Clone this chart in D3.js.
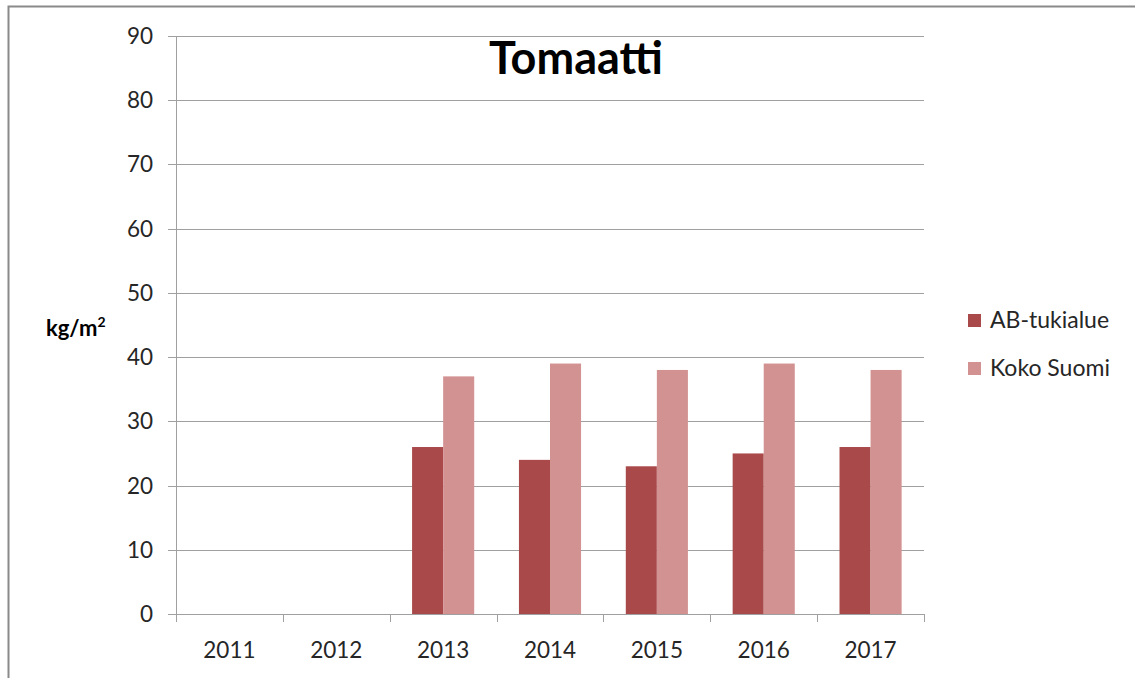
<!DOCTYPE html>
<html><head><meta charset="utf-8">
<script src="https://cdn.jsdelivr.net/npm/d3@7"></script>
<style>body{margin:0;background:#fff}svg{display:block}</style>
</head><body>
<svg id="c" width="1135" height="678"></svg>
<script>
const years = ["2011","2012","2013","2014","2015","2016","2017"];
const seriesNames = ["AB-tukialue","Koko Suomi"];
const abValues = [null,null,26,24,23,25,26];
const suomiValues = [null,null,37,39,38,39,38];
const yTicks = [0,10,20,30,40,50,60,70,80,90];
const colors = ["#A9494A","#D39292"];

const svg = d3.select("#c");
const font = "Lato, 'Open Sans', sans-serif";
// frame
svg.append("path").attr("d","M8.5,678 V6.5 H1135").attr("fill","none").attr("stroke","#8a8a8a").attr("stroke-width",2);

const x0 = d3.scaleBand().domain(years).range([176,924]);
const x1 = d3.scaleBand().domain(seriesNames).range([0,x0.bandwidth()]).paddingOuter(0.72).paddingInner(0);
const y = d3.scaleLinear().domain([0,90]).range([614,36]);

// gridlines
svg.append("g").selectAll("line").data(yTicks).join("line")
  .attr("x1",168).attr("x2",924).attr("y1",d=>Math.round(y(d))+0.5).attr("y2",d=>Math.round(y(d))+0.5)
  .attr("stroke","#a0a0a0").attr("stroke-width",1);
// y labels
svg.append("g").selectAll("text").data(yTicks).join("text")
  .attr("x",153).attr("y",d=>y(d)+8).attr("text-anchor","end")
  .attr("font-family",font).attr("font-size",22.5).attr("fill","#262626").text(d=>d);
// y axis line
svg.append("line").attr("x1",176.5).attr("x2",176.5).attr("y1",36).attr("y2",614).attr("stroke","#a0a0a0");
// x ticks
const xt = years.map(d=>x0(d)).concat([924]);
svg.append("g").selectAll("line").data(xt).join("line")
  .attr("x1",d=>Math.round(d)+0.5).attr("x2",d=>Math.round(d)+0.5).attr("y1",614).attr("y2",622)
  .attr("stroke","#a0a0a0");

const data = [abValues, suomiValues];
const g = svg.append("g");
seriesNames.forEach((s,i)=>{
  g.append("g").selectAll("rect").data(years.map((yr,j)=>({yr,v:data[i][j]})).filter(d=>d.v!=null)).join("rect")
    .attr("x",d=>x0(d.yr)+x1(s)).attr("width",x1.bandwidth())
    .attr("y",d=>y(d.v)).attr("height",d=>y(0)-y(d.v)).attr("fill",colors[i]);
});
// x labels
svg.append("g").selectAll("text").data(years).join("text")
  .attr("x",d=>x0(d)+x0.bandwidth()/2).attr("y",658).attr("text-anchor","middle")
  .attr("font-family",font).attr("font-size",22.5).attr("fill","#262626").text(d=>d);

// title
svg.append("text").attr("x",576).attr("y",74).attr("text-anchor","middle")
  .attr("font-family",font).attr("font-weight","bold").attr("font-size",45).attr("fill","#000").text("Tomaatti");
// y unit
const u = svg.append("text").attr("x",46).attr("y",336).attr("font-family",font).attr("font-weight","bold").attr("font-size",22).attr("fill","#000");
u.append("tspan").text("kg/m");
u.append("tspan").attr("font-size",14).attr("dy",-9).text("2");

// legend
const lg = svg.append("g");
seriesNames.forEach((s,i)=>{
  lg.append("rect").attr("x",968).attr("y",314+i*48).attr("width",13).attr("height",13).attr("fill",colors[i]);
  lg.append("text").attr("x",990).attr("y",328+i*48).attr("font-family",font).attr("font-size",23).attr("fill","#262626").text(s);
});
</script>
</body></html>
